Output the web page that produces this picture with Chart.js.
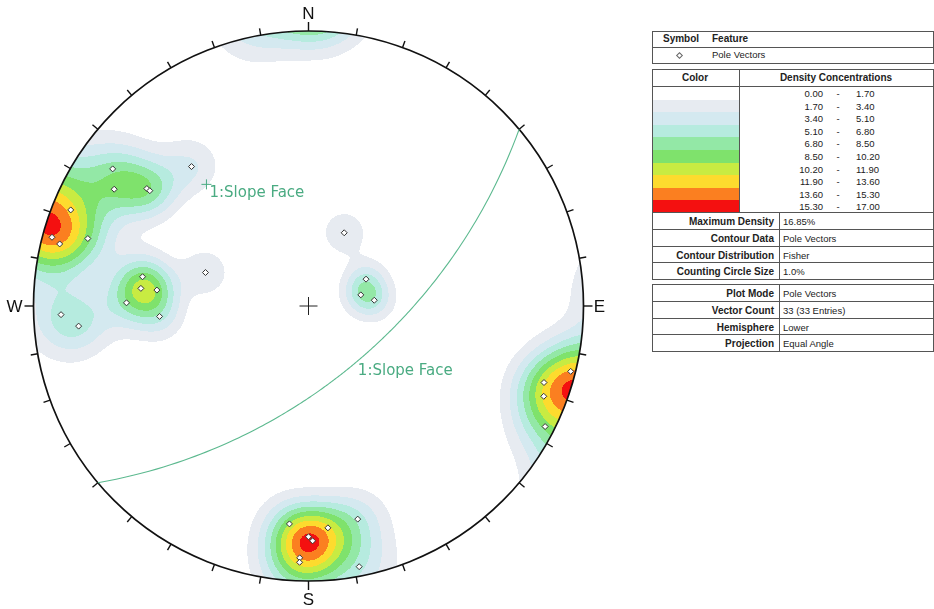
<!DOCTYPE html>
<html><head><meta charset="utf-8">
<script src="https://cdn.jsdelivr.net/npm/chart.js@4"></script>
<style>
html,body{margin:0;padding:0;background:#fff;}
body{width:934px;height:609px;overflow:hidden;position:relative;font-family:"Liberation Sans",Arial,sans-serif;font-size:9.5px;color:#222;}
#wrap{position:absolute;left:0;top:0;width:620px;height:609px;}
.t{white-space:nowrap;}
</style></head><body>
<div id="wrap"><canvas id="c" width="620" height="609"></canvas></div>
<script>
// ---- data (lower hemisphere poles, degrees) ----
const poleTrend  = [305,301,306,306,320,292,285,284,287, 280,276,276,271,266,288, 268,265, 26,65,78,85, 104,108,111,117, 185,175,167,180,179,182,182,169];
const polePlunge = [8,11,18,19,23,4,2,4,10, 27,27,32,23,33,47, 6,10, 57,64,68,63, 1,6,5,2, 13,12,13,10,9,5,4,2];
const slopeName = "1:Slope Face";
const slopeDipDir = 140;
const slopeDip = 60;
const densityLevels = [0.00,1.70,3.40,5.10,6.80,8.50,10.20,11.90,13.60,15.30,17.00];
const densityColors = ["#ffffff","#e7ebf1","#d4e9f0","#b6ebdf","#93e8a6","#7fe26c","#c8eb42","#fddb2e","#fb7f20","#f41010"];
const fisherK = 90;
const fisherGain = 1.1;
const compassLabels = ["N","E","S","W"];
const infoLabels1 = ["Maximum Density","Contour Data","Contour Distribution","Counting Circle Size"];
const infoValues1 = ["16.85%","Pole Vectors","Fisher","1.0%"];
const infoLabels2 = ["Plot Mode","Vector Count","Hemisphere","Projection"];
const infoValues2 = ["Pole Vectors","33 (33 Entries)","Lower","Equal Angle"];

const D = Math.PI/180;
function project(trend, plunge){ // equal angle, lower hemisphere
  const r = Math.tan((90-plunge)*D/2);
  return {x: r*Math.sin(trend*D), y: r*Math.cos(trend*D)};
}
const polePoints = poleTrend.map((t,i)=>project(t, polePlunge[i]));
const gcPoints = [];
for(let a=-90;a<=90;a+=1){
  const t = slopeDipDir + a;
  const p = Math.atan(Math.tan(slopeDip*D)*Math.cos(a*D))/D;
  gcPoints.push(project(t, Math.max(p,0)));
}
const slopePole = project(slopeDipDir+180, 90-slopeDip);
const slopeDipPt = project(slopeDipDir, slopeDip);

const poleVecs = poleTrend.map((t,i)=>{const p=polePlunge[i]*D; return [Math.cos(p)*Math.sin(t*D), Math.cos(p)*Math.cos(t*D), Math.sin(p)];});

function hexRgb(h){return [parseInt(h.substr(1,2),16),parseInt(h.substr(3,2),16),parseInt(h.substr(5,2),16)];}

function buildDensity(chart,cx,cy,R){
  const xs=chart.scales.x, ys=chart.scales.y;
  const W=chart.width, H=chart.height;
  const cv=document.createElement('canvas'); cv.width=W; cv.height=H;
  const c2=cv.getContext('2d'); const img=c2.createImageData(W,H); const d=img.data;
  const cols=densityColors.map(hexRgb); const N=poleVecs.length;
  for(let py=Math.max(0,Math.floor(cy-R-2)); py<Math.min(H,Math.ceil(cy+R+2)); py++){
    const vy=ys.getValueForPixel(py+0.5);
    for(let px=Math.max(0,Math.floor(cx-R-2)); px<Math.min(W,Math.ceil(cx+R+2)); px++){
      const vx=xs.getValueForPixel(px+0.5);
      let r2=vx*vx+vy*vy; if(r2>1.03) continue;
      if(r2>1) r2=1;
      const den=1+r2; const e=2*vx/den, n=2*vy/den, dn=(1-r2)/den;
      let s=0;
      for(let k=0;k<N;k++){const v=poleVecs[k]; const dot=Math.abs(e*v[0]+n*v[1]+dn*v[2]); s+=Math.exp(fisherK*(dot-1));}
      const val=100*fisherGain*s/N;
      let bi=0; for(let b=1;b<densityLevels.length-1;b++){ if(val>=densityLevels[b]) bi=b; }
      if(bi===0) continue;
      const c=cols[bi]; const o=(py*W+px)*4; d[o]=c[0];d[o+1]=c[1];d[o+2]=c[2];d[o+3]=255;
    }
  }
  c2.putImageData(img,0,0); return cv;
}

const stereo = {
  id:'stereo',
  beforeDatasetsDraw(chart){
    const ctx=chart.ctx, xs=chart.scales.x, ys=chart.scales.y;
    const cx=xs.getPixelForValue(0), cy=ys.getPixelForValue(0), R=xs.getPixelForValue(1)-cx;
    if(!chart.$dens) chart.$dens=buildDensity(chart,cx,cy,R);
    ctx.save();
    ctx.beginPath(); ctx.arc(cx,cy,R,0,2*Math.PI); ctx.clip();
    ctx.drawImage(chart.$dens,0,0);
    ctx.restore();
    ctx.save();
    ctx.strokeStyle='#111'; ctx.lineWidth=1.7;
    ctx.beginPath(); ctx.arc(cx,cy,R,0,2*Math.PI); ctx.stroke();
    ctx.lineWidth=1.4;
    for(let az=0;az<360;az+=10){
      const L = az%90===0 ? 9 : 7; const s=Math.sin(az*D), c=Math.cos(az*D);
      ctx.beginPath(); ctx.moveTo(cx+R*s, cy-R*c); ctx.lineTo(cx+(R+L)*s, cy-(R+L)*c); ctx.stroke();
    }
    ctx.fillStyle='#111'; ctx.font='17px "Liberation Sans", Arial, sans-serif';
    ctx.textAlign='center'; ctx.textBaseline='middle';
    const off=[18,16,18,19];
    compassLabels.forEach((lb,i)=>{const az=i*90; ctx.fillText(lb, cx+(R+off[i])*Math.sin(az*D), cy-(R+off[i])*Math.cos(az*D)+1);});
    ctx.restore();
  },
  afterDatasetsDraw(chart){
    const ctx=chart.ctx, xs=chart.scales.x, ys=chart.scales.y;
    ctx.save();
    ctx.fillStyle='#4aab82'; ctx.font='15px "DejaVu Sans", Verdana, sans-serif';
    ctx.textAlign='left'; ctx.textBaseline='middle';
    ctx.fillText(slopeName, xs.getPixelForValue(slopePole.x)+3, ys.getPixelForValue(slopePole.y)+9);
    ctx.fillText(slopeName, xs.getPixelForValue(slopeDipPt.x)+2, ys.getPixelForValue(slopeDipPt.y)+9);
    ctx.restore();
  }
};

const cx0=308.5, cy0=306, R0=275;
new Chart(document.getElementById('c'),{
  type:'scatter',
  data:{datasets:[
    {data:gcPoints, showLine:true, pointRadius:0, borderColor:'#5cb98f', borderWidth:1.1, tension:0},
    {data:polePoints, pointStyle:'rectRot', pointRadius:3, backgroundColor:'#ffffff', borderColor:'#333333', borderWidth:1},
    {data:[{x:0,y:0}], pointStyle:'cross', pointRadius:9, borderColor:'#222', borderWidth:1},
    {data:[slopePole], pointStyle:'cross', pointRadius:5, borderColor:'#4aab82', borderWidth:1}
  ]},
  options:{
    responsive:false, animation:false, events:[],
    layout:{padding:0, autoPadding:false},
    plugins:{legend:{display:false}, tooltip:{enabled:false}},
    scales:{
      x:{type:'linear', display:false, min:-cx0/R0, max:(620-cx0)/R0},
      y:{type:'linear', display:false, min:-(609-cy0)/R0, max:cy0/R0}
    }
  },
  plugins:[stereo]
});

// ---- legend tables ----
function el(css,text,cls){const e=document.createElement('div'); e.style.cssText='position:absolute;'+css; if(cls) e.className=cls; if(text!=null) e.textContent=text; document.body.appendChild(e); return e;}
const LX=652, RX=933, LC='#555';
function hline(y,x1,x2){el(`left:${x1}px;top:${Math.round(y)}px;width:${x2-x1+1}px;height:1px;background:${LC}`);}
function vline(x,y1,y2){el(`left:${x}px;top:${Math.round(y1)}px;width:1px;height:${Math.round(y2-y1)+1}px;background:${LC}`);}
function txt(x,y,h,s,opt){opt=opt||{};
  const fw=opt.bold?'bold':'normal'; const fs=opt.bold?'10px':'9.5px';
  let css=`top:${Math.round(y)}px;height:${Math.round(h)}px;line-height:${Math.round(h)}px;font-weight:${fw};font-size:${fs};`;
  if(opt.align==='right') css+=`right:${934-x}px;text-align:right;`;
  else if(opt.align==='center') css+=`left:${x-60}px;width:120px;text-align:center;`;
  else css+=`left:${x}px;`;
  el(css,s,'t');
}
// box 1
hline(31,LX,RX); hline(47,LX,RX); hline(63,LX,RX); vline(LX,31,63); vline(RX,31,63);
txt(663,31,16,"Symbol",{bold:true}); txt(712,31,16,"Feature",{bold:true});
el(`left:677px;top:53px;width:3px;height:3px;border:1px solid #666;transform:rotate(45deg);background:#fff`);
txt(712,47,16,"Pole Vectors");
// box 2
const b2=69, hdr=86, rowH=12.6, colEnd=hdr+rowH*10;
hline(b2,LX,RX); hline(hdr,LX,RX); vline(LX,b2,279); vline(RX,b2,279); vline(739,b2,colEnd);
txt(695,b2,17,"Color",{bold:true,align:'center'}); txt(836,b2,17,"Density Concentrations",{bold:true,align:'center'});
for(let i=0;i<10;i++){
  const y=hdr+1+rowH*i;
  el(`left:${LX+1}px;top:${y.toFixed(1)}px;width:${739-LX-1}px;height:${(rowH+0.4).toFixed(1)}px;background:${densityColors[i]}`);
  txt(823,y,rowH,densityLevels[i].toFixed(2),{align:'right'});
  txt(838,y,rowH,"-",{align:'center'});
  txt(856,y,rowH,densityLevels[i+1].toFixed(2));
}
hline(colEnd,LX,RX);
const pr=(279-colEnd)/4;
for(let i=0;i<4;i++){
  const y=colEnd+pr*i;
  if(i>0) hline(y,LX,RX);
  txt(774,y+1,pr,infoLabels1[i],{bold:true,align:'right'});
  txt(783,y+1,pr,infoValues1[i]);
}
vline(779,colEnd,279); hline(279,LX,RX);
// box 3
const b3=284, pr3=(351-b3)/4;
hline(b3,LX,RX); vline(LX,b3,351); vline(RX,b3,351); vline(779,b3,351);
for(let i=0;i<4;i++){
  const y=b3+pr3*i;
  if(i>0) hline(y,LX,RX);
  txt(774,y+1,pr3,infoLabels2[i],{bold:true,align:'right'});
  txt(783,y+1,pr3,infoValues2[i]);
}
hline(351,LX,RX);
</script>
</body></html>
